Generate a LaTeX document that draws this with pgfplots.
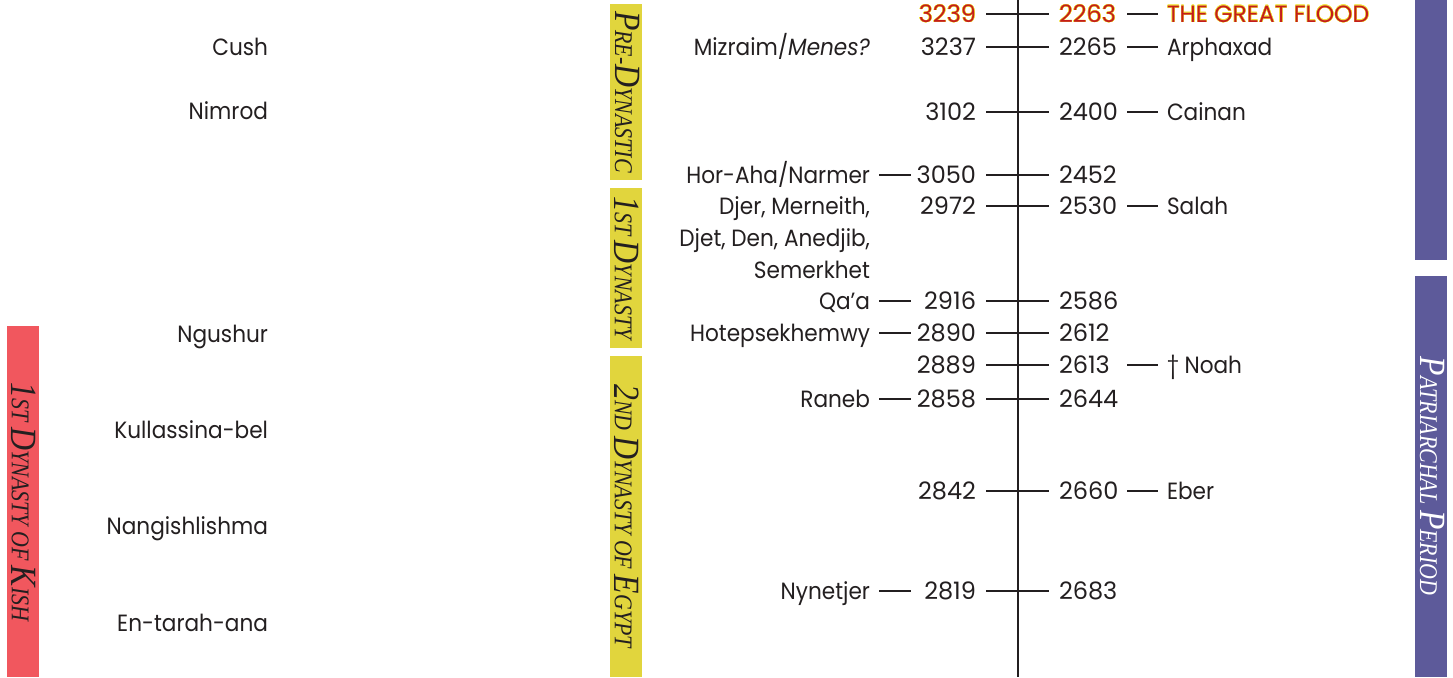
\documentclass[border=0pt]{standalone}
\usepackage{pgfplots}
\pgfplotsset{compat=1.18}
\usepackage{fontspec}
\setmainfont{Poppins}
\newfontfamily\narrowsans[FakeStretch=0.92]{Poppins}
\newfontfamily\numsans[Numbers=Monospaced]{Poppins}
\newfontfamily\serifit[FakeStretch=0.86]{Liberation Serif}
\usepackage[copies]{contour}
\contourlength{0.4pt}
\contournumber{16}
\definecolor{kish}{RGB}{241,87,94}
\definecolor{egy}{RGB}{225,213,61}
\definecolor{patr}{RGB}{93,90,154}
\definecolor{ink}{RGB}{35,31,32}
\definecolor{flood}{RGB}{196,28,28}
\definecolor{halo}{RGB}{240,225,60}
\newcommand\lab{\narrowsans\fontsize{23.5}{26}\selectfont}
\newcommand\wlab{\fontsize{23.5}{26}\selectfont}
\newcommand\num{\numsans\fontsize{24}{28}\selectfont}
\newcommand\bigc[1]{{\fontsize{37}{37}\selectfont #1}}
\newcommand\smc[1]{{\fontsize{25.5}{25.5}\selectfont #1}}
\newcommand\band{\serifit\itshape\fontsize{25.5}{25.5}\selectfont}
\pgfplotsset{
  lbl/.style={draw=none, mark=none, nodes near coords, point meta=explicit symbolic,
    every node near coord/.append style={anchor=base #1, inner sep=0pt, outer sep=0pt,
      font=\lab, text=ink, yshift=-8.3pt}},
  nlbl/.style={draw=none, mark=none, nodes near coords, point meta=explicit symbolic,
    every node near coord/.append style={anchor=base #1, inner sep=0pt, outer sep=0pt,
      font=\num, text=ink, yshift=-8.5pt}},
}
\begin{document}
\begin{tikzpicture}
\begin{axis}[scale only axis, width=1453pt, height=677pt,
  xmin=0, xmax=1453, ymin=0, ymax=677, y dir=reverse,
  hide axis, clip=false]
% period bars
\addplot[fill=kish, draw=none] coordinates {(7,326) (39,326) (39,677) (7,677)};
\addplot[fill=egy, draw=none] coordinates {(610,4) (642,4) (642,180) (610,180)};
\addplot[fill=egy, draw=none] coordinates {(610,188) (642,188) (642,348) (610,348)};
\addplot[fill=egy, draw=none] coordinates {(610,356) (642,356) (642,677) (610,677)};
\addplot[fill=patr, draw=none] coordinates {(1415,0) (1447,0) (1447,260) (1415,260)};
\addplot[fill=patr, draw=none] coordinates {(1415,276) (1447,276) (1447,677) (1415,677)};
% main vertical line
\addplot[ink, line width=2pt] coordinates {(1018,0) (1018,677)};
% tick lines across the axis
\addplot[ink, line width=1.8pt, unbounded coords=jump] coordinates {
 (986,14) (1049,14) (1000,nan)
 (986,47) (1049,47) (1000,nan)
 (986,112) (1049,112) (1000,nan)
 (986,175) (1049,175) (1000,nan)
 (986,206) (1049,206) (1000,nan)
 (986,301) (1049,301) (1000,nan)
 (986,333) (1049,333) (1000,nan)
 (986,365) (1049,365) (1000,nan)
 (986,399) (1049,399) (1000,nan)
 (986,491) (1049,491) (1000,nan)
 (986,591) (1049,591)};
% left dashes
\addplot[ink, line width=1.8pt, unbounded coords=jump] coordinates {
 (879,175) (911,175) (900,nan)
 (879,301) (911,301) (900,nan)
 (879,333) (911,333) (900,nan)
 (879,399) (911,399) (900,nan)
 (879,591) (911,591)};
% right dashes
\addplot[ink, line width=1.8pt, unbounded coords=jump] coordinates {
 (1127,14) (1158,14) (1140,nan)
 (1127,47) (1158,47) (1140,nan)
 (1127,112) (1158,112) (1140,nan)
 (1127,206) (1158,206) (1140,nan)
 (1127,365) (1158,365) (1140,nan)
 (1127,491) (1158,491)};
% left years
\addplot[nlbl=east] coordinates {
 (976,47) [3237] (976,112) [3102] (976,175) [3050] (976,206) [2972]
 (976,301) [2916] (976,333) [2890] (976,365) [2889] (976,399) [2858]
 (976,491) [2842] (976,591) [2819]};
% right years
\addplot[nlbl=west] coordinates {
 (1059,47) [2265] (1059,112) [2400] (1059,175) [2452] (1059,206) [2530]
 (1059,301) [2586] (1059,333) [2612] (1059,365) [2613] (1059,399) [2644]
 (1059,491) [2660] (1059,591) [2683]};
% right names
\addplot[lbl=west] coordinates {
 (1167,47) [Arphaxad] (1167,112) [Cainan] (1167,206) [Salah]
 (1167,365) [{\textdagger\ Noah}] (1167,491) [Eber]};
% Egyptian kings
\addplot[lbl=east] coordinates {
 (870,47) [{Mizraim/\textit{Menes?}}] (870,175) [{Hor-Aha/Narmer}]
 (870,206) [{Djer, Merneith,}] (870,238) [{Djet, Den, Anedjib,}]
 (870,270) [{Semerkhet}] (870,301) [{Qa’a}] (870,333) [{Hotepsekhemwy}]
 (870,399) [{Raneb}] (870,591) [{Nynetjer}]};
% Mesopotamian kings
\addplot[lbl=east] coordinates {
 (268,47) [Cush] (268,111) [Nimrod] (268,334) [Ngushur]
 (268,430) [Kullassina-bel] (268,526) [Nangishlishma] (268,623) [En-tarah-ana]};
% the flood
\addplot[nlbl=east, nodes near coords={\contour{halo}{\textcolor{flood}{\pgfplotspointmeta}}}]
 coordinates {(976,14) [3239]};
\addplot[nlbl=west, nodes near coords={\contour{halo}{\textcolor{flood}{\pgfplotspointmeta}}}]
 coordinates {(1059,14) [2263]};
\addplot[lbl=west, nodes near coords={\contour{halo}{\textcolor{flood}{\pgfplotspointmeta}}},
 every node near coord/.append style={font=\wlab}]
 coordinates {(1167,14) [THE GREAT FLOOD]};
% period names
\node[rotate=-90, text=ink, font=\band] at (axis cs:24,502)
 {\bigc{1}\smc{ST} \bigc{D}\smc{YNASTY OF} \bigc{K}\smc{ISH}};
\node[rotate=-90, text=ink, font=\band] at (axis cs:627,92)
 {\bigc{P}\smc{RE}-\bigc{D}\smc{YNASTIC}};
\node[rotate=-90, text=ink, font=\band] at (axis cs:627,268)
 {\bigc{1}\smc{ST} \bigc{D}\smc{YNASTY}};
\node[rotate=-90, text=ink, font=\band] at (axis cs:627,516)
 {\bigc{2}\smc{ND} \bigc{D}\smc{YNASTY OF} \bigc{E}\smc{GYPT}};
\node[rotate=-90, text=white, font=\band] at (axis cs:1432,476)
 {\bigc{P}\smc{ATRIARCHAL} \bigc{P}\smc{ERIOD}};
\end{axis}
\pgfresetboundingbox
\path (0,0) rectangle (1453pt,677pt);
\end{tikzpicture}
\end{document}
